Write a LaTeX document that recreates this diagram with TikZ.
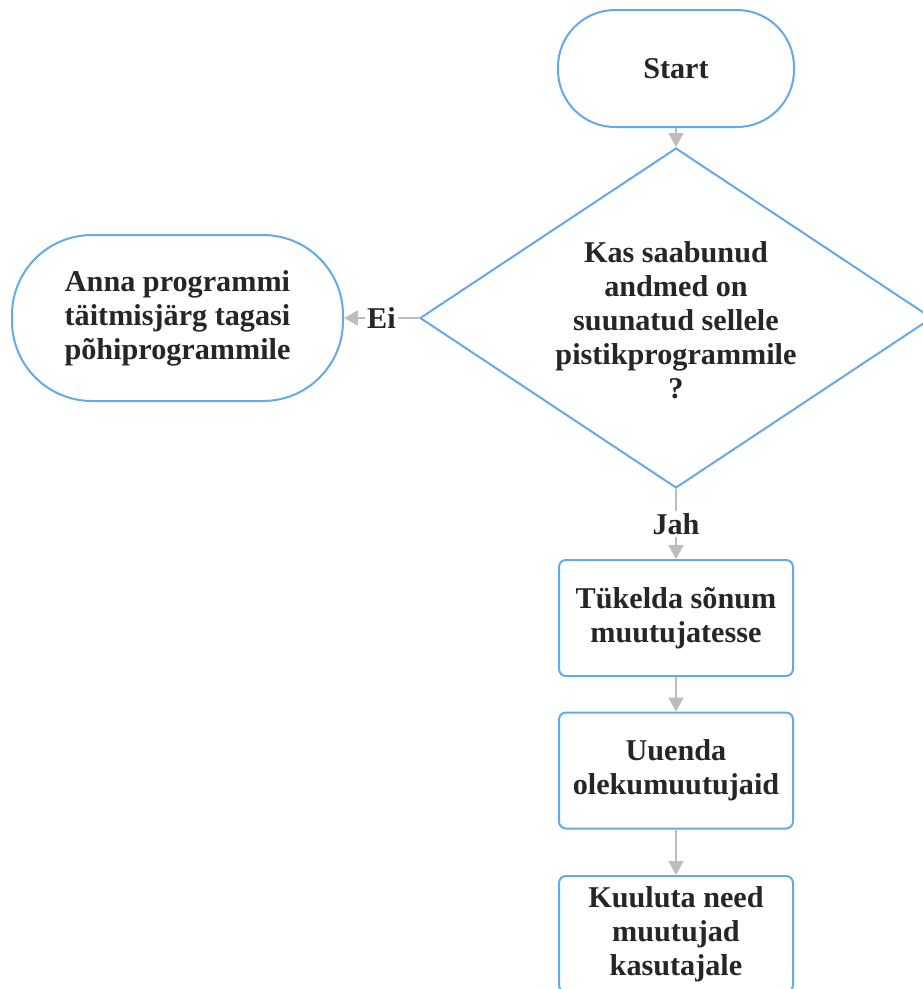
\documentclass[tikz,border=0pt]{standalone}
\usepackage{fontspec}
\setmainfont{Liberation Serif}
\usetikzlibrary{arrows.meta,shapes.geometric}
\definecolor{flowblue}{HTML}{64A9EB}
\definecolor{flowgray}{HTML}{BDBDBD}
\definecolor{ink}{HTML}{262626}
\begin{document}
\begin{tikzpicture}[x=1pt,y=-1pt,
  txt/.style={font=\fontsize{30.2}{34}\selectfont\bfseries, text=ink, align=center, inner sep=0pt},
  term/.style={draw=flowblue, line width=2pt, fill=white, inner sep=0pt, txt},
  proc/.style={draw=flowblue, line width=2pt, rounded corners=7pt, minimum width=234pt, minimum height=116pt, inner sep=0pt, txt},
  flow/.style={draw=flowgray, line width=2pt, -{Triangle[length=14pt,width=15pt]}},
  lbl/.style={txt, fill=white, inner sep=2pt}]
\useasboundingbox (0,0) rectangle (923,989);
\clip (0,0) rectangle (923,989);

% terminators
\node[term, rounded corners=57pt, minimum width=236pt, minimum height=117pt] (start) at (676,68.5) {Start};
\node[term, rounded corners=80pt, minimum width=331pt, minimum height=166pt] (back) at (177.5,318)
  {Anna programmi\\täitmisjärg tagasi\\põhiprogrammile};

% decision
\node[draw=flowblue, line width=2pt, shape=diamond, minimum width=512pt, minimum height=340pt, inner sep=0pt] (dec) at (676,318) {};
\node[txt] (dectext) at (676,320) {Kas saabunud\\andmed on\\suunatud sellele\\pistikprogrammile\\?};

% process steps
\node[proc] (split) at (676,618) {Tükelda sõnum\\muutujatesse};
\node[proc] (update) at (676,770.5) {Uuenda\\olekumuutujaid};
\node[proc] (announce) at (676,934) {Kuuluta need\\muutujad\\kasutajale};

% connectors
\draw[flow] (start) -- (dec.north);
\draw[flow] (dec.west) -- node[lbl] {Ei} (back.east);
\draw[flow] (dec.south) -- node[lbl] {Jah} (split);
\draw[flow] (split) -- (update);
\draw[flow] (update) -- (announce);
\end{tikzpicture}
\end{document}
